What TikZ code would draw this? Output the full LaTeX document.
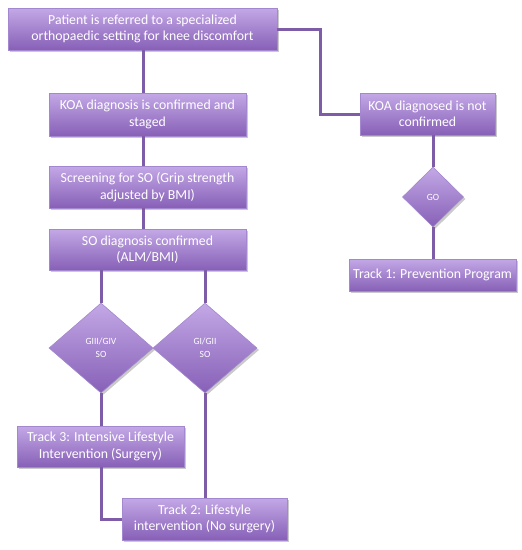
\documentclass[tikz,border=0pt]{standalone}
\usepackage{fontspec}
\setmainfont{Carlito}
\usetikzlibrary{shapes.geometric,shadows}
\definecolor{boxtop}{HTML}{C3A8E6}
\definecolor{boxbot}{HTML}{8760B7}
\definecolor{boxline}{HTML}{A488CF}
\definecolor{conn}{HTML}{7E5CA8}
\tikzset{
  box/.style={rectangle, draw=boxline, line width=0.6pt, top color=boxtop, bottom color=boxbot,
    text=white, align=center, inner sep=1pt, font=\fontsize{13.8}{16.5}\selectfont,
    drop shadow={shadow xshift=2pt, shadow yshift=-2pt, opacity=0.35, fill=black!60}},
  dia/.style={diamond, draw=boxline, line width=0.6pt, top color=boxtop, bottom color=boxbot,
    text=white, align=center, inner sep=0pt, font=\fontsize{9.5}{13}\selectfont,
    drop shadow={shadow xshift=2pt, shadow yshift=-2pt, opacity=0.35, fill=black!60}},
  conn/.style={draw=conn, line width=3pt}
}
\begin{document}
\begin{tikzpicture}[x=1pt,y=-1pt]
\useasboundingbox (0,0) rectangle (522,550);
% nodes
\node[box, minimum width=269pt, minimum height=42pt] (b1) at (142.5,29) {Patient is referred to a specialized\\orthopaedic setting for knee discomfort};
\node[box, minimum width=135pt, minimum height=42pt] (kn) at (427.5,114) {KOA diagnosed is not\\confirmed};
\node[dia, minimum width=61pt, minimum height=60pt] (go) at (433,197) {GO};
\node[box, minimum width=167pt, minimum height=32pt] (t1) at (432.5,275) {Track 1: Prevention Program};
\node[box, minimum width=197pt, minimum height=43pt] (kc) at (147.5,114.5) {KOA diagnosis is confirmed and\\staged};
\node[box, minimum width=197pt, minimum height=42pt] (sc) at (147.5,187) {Screening for SO (Grip strength\\adjusted by BMI)};
\node[box, minimum width=197pt, minimum height=41pt] (sd) at (147.5,249.5) {SO diagnosis confirmed\\(ALM/BMI)};
\node[dia, minimum width=104pt, minimum height=90pt] (g3) at (101,348) {GIII/GIV\\SO};
\node[dia, minimum width=104pt, minimum height=90pt] (g1) at (205,348) {GI/GII\\SO};
\node[box, minimum width=167pt, minimum height=41pt] (t3) at (100.5,446.5) {Track 3: Intensive Lifestyle\\Intervention (Surgery)};
\node[box, minimum width=165pt, minimum height=42pt] (t2) at (204.5,519) {Track 2: Lifestyle\\intervention (No surgery)};
% connectors
\draw[conn] (b1.east) -- (320,29) |- (kn.west);
\draw[conn] (b1.south -| 143,0) -- (kc.north -| 143,0);
\draw[conn] (kc.south -| 143,0) -- (sc.north -| 143,0);
\draw[conn] (sc.south -| 143,0) -- (sd.north -| 143,0);
\draw[conn] (kn.south -| go.north) -- (go.north);
\draw[conn] (go.south) -- (t1.north -| go.south);
\draw[conn] (sd.south -| g3.north) -- (g3.north);
\draw[conn] (sd.south -| g1.north) -- (g1.north);
\draw[conn] (g3.south) -- (t3.north -| g3.south);
\draw[conn] (g1.south) -- (t2.north -| g1.south);
\draw[conn] (t3.south -| g3.south) |- (t2.west);
\end{tikzpicture}
\end{document}
